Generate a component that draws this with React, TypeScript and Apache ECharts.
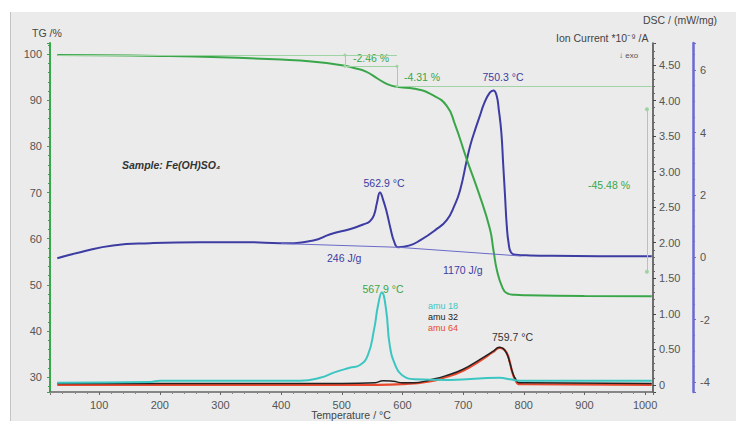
import React, { useEffect, useRef } from "react";
import * as echarts from "echarts";

const FONT = '"Liberation Sans", Arial, Helvetica, sans-serif';

// TG (%) curve
const tgTemp = [31, 100, 200, 300, 400, 450, 500, 520, 540, 560, 575, 590, 620, 650, 673, 686, 706, 725, 744, 750, 756, 764, 772, 785, 805, 900, 1011];
const tgValue = [99.8, 99.75, 99.6, 99.3, 98.8, 98.4, 97.6, 97.0, 96.2, 94.6, 93.5, 92.9, 92.5, 91.1, 88.8, 85.0, 77.2, 70.2, 62.2, 57.5, 53.0, 49.7, 48.2, 47.85, 47.75, 47.6, 47.55];

// DSC (mW/mg) curve
const dscTemp = [31, 69, 123, 184, 266, 349, 398, 453, 481, 513, 535, 546, 553, 558, 563, 568, 574, 580, 586, 593, 612, 629, 654, 673, 686, 695, 706, 712, 720, 727, 735, 744, 750, 755, 759, 763, 766, 769, 772, 775, 779, 787, 810, 925, 1011];
const dscValue = [-0.03, 0.16, 0.38, 0.45, 0.48, 0.48, 0.45, 0.54, 0.74, 0.9, 1.05, 1.15, 1.35, 1.75, 2.08, 1.85, 1.45, 0.95, 0.52, 0.32, 0.38, 0.54, 0.87, 1.19, 1.67, 2.15, 3.11, 3.6, 4.1, 4.5, 4.95, 5.28, 5.35, 5.2, 4.7, 4.0, 3.0, 2.0, 1.0, 0.45, 0.15, 0.08, 0.06, 0.03, 0.03];

// Ion currents
const ion18Temp = [31, 184, 200, 431, 464, 489, 513, 530, 543, 553, 560, 566, 573, 579, 588, 599, 620, 678, 760, 777, 793, 925, 1011];
const ion18Value = [0.03, 0.04, 0.06, 0.06, 0.1, 0.18, 0.24, 0.28, 0.42, 0.77, 1.13, 1.3, 1.06, 0.56, 0.28, 0.14, 0.08, 0.07, 0.1, 0.08, 0.06, 0.06, 0.06];
const ion32Temp = [31, 500, 555, 568, 585, 600, 620, 645, 672, 700, 728, 749, 760, 766, 772, 777, 781, 786, 793, 1011];
const ion32Value = [0.02, 0.02, 0.03, 0.06, 0.05, 0.03, 0.03, 0.07, 0.13, 0.22, 0.36, 0.47, 0.53, 0.51, 0.44, 0.31, 0.19, 0.09, 0.03, 0.02];
const ion64Temp = [31, 560, 600, 645, 672, 700, 728, 749, 760, 766, 772, 777, 781, 786, 793, 1011];
const ion64Value = [0.0, 0.0, 0.01, 0.05, 0.11, 0.2, 0.34, 0.46, 0.52, 0.51, 0.45, 0.32, 0.18, 0.07, 0.01, 0.0];

// Mass-loss steps (TG annotation)
const stepStartLevel = 99.8;
const massLoss = [2.46, 4.31, 45.48];
const stepTemps = [505, 591, 1003];

// DSC integration baselines [temp, dsc]
const dscBase1 = [[400, 0.44], [593, 0.32]];
const dscBase2 = [[593, 0.32], [795, 0.04]];

const GREEN = "#3aa64a";
const BLUE = "#3c3ca2";
const CYAN = "#3cc6c2";
const RED = "#e8492e";
const BLACK = "#222222";
const LIGHTGREEN = "#9fd3a3";

function pairs(xs: number[], ys: number[]) {
  return xs.map((x, i) => [x, ys[i]]);
}

export default function App() {
  const ref = useRef<HTMLDivElement>(null);
  useEffect(() => {
    if (!ref.current) return;
    const chart = echarts.init(ref.current, null, { renderer: "svg" });
    const l1 = stepStartLevel - massLoss[0];
    const l2 = l1 - massLoss[1];
    const l3 = l2 - massLoss[2];
    const txt = (x: number, y: number, text: string, fill: string, extra: any = {}) => ({
      type: "text",
      x,
      y,
      style: { text, fill, font: `10.5px ${FONT}`, textVerticalAlign: "middle", ...extra },
    });
    const small = { font: `9px ${FONT}` };
    const lbl = { color: "#555", fontSize: 11, fontFamily: FONT };
    chart.setOption({
      animation: false,
      backgroundColor: "transparent",
      grid: { left: 50, right: 83, top: 43, bottom: 29 },
      xAxis: {
        type: "value",
        min: 19,
        max: 1013,
        splitNumber: 10,
        axisLine: { onZero: false, lineStyle: { color: "#666", width: 1.5 } },
        axisTick: { length: 3, lineStyle: { color: "#666" } },
        minorTick: { show: true, splitNumber: 5, length: 2, lineStyle: { color: "#888" } },
        axisLabel: { ...lbl, margin: 7, showMinLabel: false, showMaxLabel: false, formatter: (v: number) => String(v) },
        splitLine: { show: false },
      },
      yAxis: [
        {
          type: "value",
          position: "left",
          min: 26.8,
          max: 102.4,
          splitNumber: 8,
          axisLine: { show: true, lineStyle: { color: GREEN, width: 2 } },
          axisTick: { show: true, length: 3, lineStyle: { color: GREEN } },
          minorTick: { show: true, splitNumber: 5, length: 2, lineStyle: { color: GREEN } },
          axisLabel: { ...lbl, margin: 8, showMinLabel: false, showMaxLabel: false },
          splitLine: { show: false },
        },
        {
          type: "value",
          position: "right",
          min: -0.1,
          max: 4.81,
          splitNumber: 10,
          axisLine: { show: true, lineStyle: { color: "#444", width: 1.5 } },
          axisTick: { show: true, length: 3, lineStyle: { color: "#444" } },
          minorTick: { show: true, splitNumber: 5, length: 2, lineStyle: { color: "#666" } },
          axisLabel: {
            ...lbl,
            margin: 6,
            showMinLabel: false,
            showMaxLabel: false,
            formatter: (v: number) => (v === 0 ? "0" : v.toFixed(2)),
          },
          splitLine: { show: false },
        },
        {
          type: "value",
          position: "right",
          offset: 40,
          min: -4.32,
          max: 6.87,
          splitNumber: 5,
          axisLine: { show: true, lineStyle: { color: "#6a6ad2", width: 2.5 } },
          axisTick: { show: true, length: 3, lineStyle: { color: "#6a6ad2" } },
          minorTick: { show: true, splitNumber: 4, length: 2, lineStyle: { color: "#6a6ad2" } },
          axisLabel: { ...lbl, margin: 7, showMinLabel: false, showMaxLabel: false },
          splitLine: { show: false },
        },
      ],
      series: [
        {
          name: "TG",
          type: "line",
          yAxisIndex: 0,
          data: pairs(tgTemp, tgValue),
          showSymbol: false,
          smooth: 0.5,
          lineStyle: { color: GREEN, width: 2 },
          z: 4,
          markLine: {
            silent: true,
            symbol: ["none", "none"],
            label: { show: false },
            lineStyle: { color: LIGHTGREEN, width: 1, type: "solid" },
            data: [
              [{ coord: [31, stepStartLevel] }, { coord: [stepTemps[1], stepStartLevel] }],
              [{ coord: [stepTemps[0], stepStartLevel], symbol: "circle", symbolSize: 3 }, { coord: [stepTemps[0], l1], symbol: "circle", symbolSize: 3 }],
              [{ coord: [stepTemps[0], l1] }, { coord: [stepTemps[1], l1] }],
              [{ coord: [stepTemps[1], l1], symbol: "circle", symbolSize: 3 }, { coord: [stepTemps[1], l2], symbol: "circle", symbolSize: 3 }],
              [{ coord: [stepTemps[1], l2] }, { coord: [1011, l2] }],
              [{ coord: [stepTemps[2], l2 - 5], symbol: "circle", symbolSize: 4 }, { coord: [stepTemps[2], l3 + 5.3], symbol: "circle", symbolSize: 4 }],
            ],
          },
        },
        {
          name: "DSC",
          type: "line",
          yAxisIndex: 2,
          data: pairs(dscTemp, dscValue),
          showSymbol: false,
          smooth: 0.5,
          lineStyle: { color: BLUE, width: 2 },
          z: 3,
          markLine: {
            silent: true,
            symbol: ["none", "none"],
            label: { show: false },
            lineStyle: { color: "#6a6ac8", width: 1, type: "solid" },
            data: [
              [{ coord: dscBase1[0] }, { coord: dscBase1[1] }],
              [{ coord: dscBase2[0] }, { coord: dscBase2[1] }],
            ],
          },
        },
        {
          name: "amu 64",
          type: "line",
          yAxisIndex: 1,
          data: pairs(ion64Temp, ion64Value),
          showSymbol: false,
          smooth: 0.5,
          lineStyle: { color: RED, width: 2.2 },
        },
        {
          name: "amu 32",
          type: "line",
          yAxisIndex: 1,
          data: pairs(ion32Temp, ion32Value),
          showSymbol: false,
          smooth: 0.5,
          lineStyle: { color: BLACK, width: 1.5 },
        },
        {
          name: "amu 18",
          type: "line",
          yAxisIndex: 1,
          data: pairs(ion18Temp, ion18Value),
          showSymbol: false,
          smooth: 0.5,
          lineStyle: { color: CYAN, width: 2 },
        },
      ],
      graphic: [
        txt(32, 33, "TG /%", "#444"),
        txt(643, 20, "DSC / (mW/mg)", "#444"),
        txt(556, 38, "Ion Current *10⁻⁹ /A", "#444"),
        txt(619, 55, "↓ exo", "#555", { font: `8px ${FONT}` }),
        txt(353, 58, "-2.46 %", GREEN),
        txt(404, 77, "-4.31 %", GREEN),
        txt(588, 185, "-45.48 %", GREEN),
        txt(384, 183, "562.9 °C", BLUE, { textAlign: "center" }),
        txt(503, 77, "750.3 °C", BLUE, { textAlign: "center" }),
        txt(327, 258, "246 J/g", BLUE),
        txt(443, 270, "1170 J/g", BLUE),
        txt(383, 289, "567.9 °C", GREEN, { textAlign: "center" }),
        txt(428, 306, "amu 18", CYAN, small),
        txt(428, 317, "amu 32", BLACK, small),
        txt(428, 328, "amu 64", RED, small),
        txt(492, 337, "759.7 °C", "#333"),
        txt(122, 165, "Sample: Fe(OH)SO₄", "#333", { font: `italic bold 10.5px ${FONT}` }),
        txt(351, 415, "Temperature / °C", "#444", { textAlign: "center" }),
      ],
    });
    return () => chart.dispose();
  }, []);
  return (
    <div style={{ position: "fixed", left: 0, top: 0, width: 736, height: 421, background: "#ffffff", overflow: "hidden" }}>
      <div
        style={{
          position: "absolute",
          left: 10,
          top: 12,
          width: 726,
          height: 409,
          background: "#ebebeb",
          borderLeft: "1.5px solid #c4c4c4",
        }}
      />
      <div ref={ref} style={{ position: "absolute", left: 0, top: 0, width: 736, height: 421 }} />
    </div>
  );
}
